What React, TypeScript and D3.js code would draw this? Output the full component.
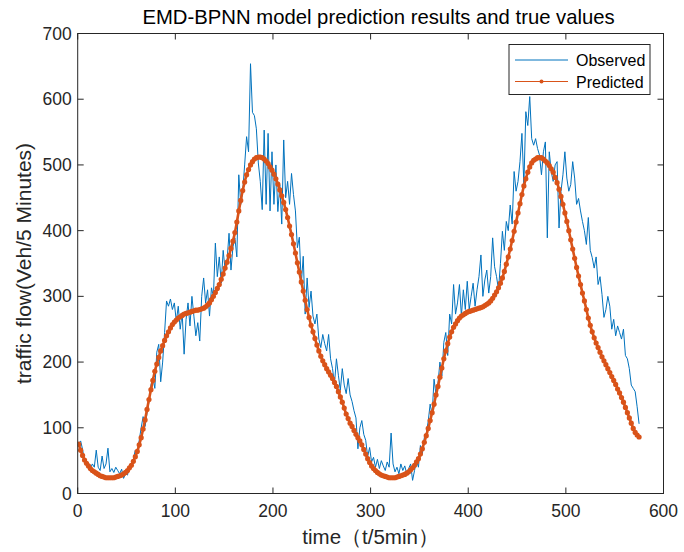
import React from "react";
import * as d3 from "d3";

// Time step of first sample and sampling step (t/5min)
const tStart = 1;
const tStep = 2;

// Observed traffic flow, sampled every 2 steps (t = 1,3,5,...)
const observed: number[] = [
  76, 80, 67, 50, 46, 42, 38, 45, 40, 66,
  40, 35, 57, 38, 45, 69, 33, 38, 32, 40,
  35, 30, 37, 23, 30, 28, 40, 46, 52, 66,
  60, 81, 100, 117, 102, 122, 140, 165, 177, 160,
  215, 227, 170, 200, 245, 293, 285, 296, 280, 290,
  262, 285, 250, 275, 212, 265, 290, 255, 300, 270,
  240, 260, 232, 300, 328, 290, 310, 270, 313, 300,
  381, 330, 360, 320, 370, 340, 355, 396, 340, 375,
  389, 360, 485, 440, 460, 500, 543, 520, 654, 580,
  575, 555, 503, 475, 432, 553, 440, 548, 430, 520,
  440, 500, 429, 470, 410, 538, 450, 475, 440, 487,
  455, 430, 374, 390, 318, 361, 273, 328, 283, 308,
  270, 258, 273, 235, 222, 242, 228, 217, 242, 205,
  190, 167, 205, 180, 157, 190, 165, 152, 175, 150,
  140, 126, 115, 68, 100, 111, 90, 81, 56, 70,
  48, 55, 40, 52, 38, 50, 42, 35, 48, 40,
  92, 45, 33, 40, 30, 45, 35, 42, 30, 38,
  45, 20, 35, 50, 40, 73, 60, 85, 91, 110,
  136, 120, 174, 150, 167, 200, 179, 230, 245, 210,
  273, 258, 318, 273, 290, 318, 270, 310, 280, 323,
  280, 300, 320, 285, 310, 330, 363, 300, 325, 340,
  305, 330, 389, 345, 330, 310, 350, 399, 370, 414,
  400, 439, 410, 490, 460, 475, 505, 548, 470, 581,
  560, 604, 540, 530, 540, 525, 515, 485, 520, 535,
  389, 520, 490, 475, 500, 505, 404, 460, 485, 520,
  480, 460, 470, 505, 480, 440, 449, 430, 414, 400,
  379, 420, 370, 359, 343, 360, 318, 330, 303, 268,
  280, 300, 285, 250, 265, 240, 255, 245, 235, 250,
  210, 205, 190, 165, 160, 155, 132, 106,
];

// Predicted (EMD-BPNN) values, same sampling
const predicted: number[] = [
  75, 66, 58, 51, 46, 42, 38, 35, 33, 31,
  29, 27, 26, 25, 24, 24, 24, 24, 24, 25,
  26, 27, 28, 30, 32, 35, 39, 43, 49, 56,
  64, 74, 85, 98, 112, 128, 143, 158, 172, 186,
  197, 207, 217, 225, 233, 240, 246, 252, 257, 261,
  264, 267, 269, 271, 273, 274, 275, 276, 277, 278,
  279, 279, 280, 281, 282, 284, 287, 290, 295, 300,
  306, 312, 318, 326, 334, 343, 352, 362, 373, 384,
  397, 413, 430, 446, 461, 474, 485, 493, 500, 505,
  509, 511, 512, 512, 511, 509, 506, 502, 497, 492,
  486, 479, 471, 462, 453, 443, 432, 420, 407, 394,
  380, 366, 351, 337, 322, 308, 294, 280, 268, 256,
  246, 236, 226, 217, 209, 202, 196, 190, 185, 180,
  175, 169, 163, 155, 147, 139, 130, 121, 114, 107,
  102, 96, 90, 85, 80, 74, 67, 60, 53, 47,
  42, 38, 35, 32, 30, 28, 27, 26, 25, 24,
  24, 24, 24, 25, 26, 27, 28, 29, 31, 33,
  36, 39, 43, 48, 53, 60, 68, 78, 88, 99,
  111, 123, 136, 150, 163, 177, 191, 205, 217, 228,
  238, 246, 253, 258, 263, 267, 270, 272, 274, 276,
  277, 278, 279, 280, 281, 282, 283, 284, 286, 288,
  290, 293, 297, 302, 307, 313, 320, 328, 338, 349,
  360, 372, 385, 399, 413, 427, 441, 455, 468, 479,
  489, 497, 503, 507, 509, 511, 511, 511, 509, 506,
  503, 499, 494, 489, 481, 473, 463, 452, 440, 427,
  414, 400, 386, 372, 358, 344, 331, 318, 305, 293,
  280, 267, 256, 246, 237, 229, 222, 215, 208, 202,
  196, 190, 184, 178, 172, 166, 159, 153, 146, 139,
  131, 123, 115, 107, 99, 93, 89, 86,
];

const xTicks = [0, 100, 200, 300, 400, 500, 600];
const yTicks = [0, 100, 200, 300, 400, 500, 600, 700];

const titleText = "EMD-BPNN model prediction results and true values";
const xLabel = "time（t/5min）";
const yLabel = "traffic flow(Veh/5 Minutes)";
const seriesNames = ["Observed", "Predicted"];

const W = 684;
const H = 552;
const M = { left: 77.7, right: 663.5, top: 33.5, bottom: 493.5 };
const BLUE = "#0072BD";
const ORANGE = "#D95319";
const AX = "#262626";
const FONT = "'Liberation Sans', Arial, Helvetica, sans-serif";

export default function App() {
  const x = d3.scaleLinear().domain([0, 600]).range([M.left, M.right]);
  const y = d3.scaleLinear().domain([0, 700]).range([M.bottom, M.top]);
  const tOf = (i: number) => tStart + tStep * i;

  const lineObs = d3
    .line<number>()
    .x((_, i) => x(tOf(i)))
    .y((d) => y(d));
  const linePred = d3
    .line<number>()
    .x((_, i) => x(tOf(i)))
    .y((d) => y(d))
    .curve(d3.curveCatmullRom);

  const tickLen = 6;

  return (
    <svg
      width={W}
      height={H}
      style={{ position: "absolute", left: 0, top: 0, background: "#fff" }}
      fontFamily={FONT}
    >
      <rect x={0} y={0} width={W} height={H} fill="#fff" />
      <defs>
        <clipPath id="plotclip">
          <rect x={M.left} y={M.top} width={M.right - M.left} height={M.bottom - M.top} />
        </clipPath>
      </defs>
      <g clipPath="url(#plotclip)">
        <path d={lineObs(observed) || ""} fill="none" stroke={BLUE} strokeWidth={1} />
        <path d={linePred(predicted) || ""} fill="none" stroke={ORANGE} strokeWidth={2.6} />
        {predicted.map((d, i) => (
          <circle key={i} cx={x(tOf(i))} cy={y(d)} r={2.6} fill={ORANGE} />
        ))}
      </g>
      {/* axes box */}
      <rect
        x={M.left}
        y={M.top}
        width={M.right - M.left}
        height={M.bottom - M.top}
        fill="none"
        stroke={AX}
        strokeWidth={1}
      />
      {xTicks.map((t) => (
        <g key={"x" + t}>
          <line x1={x(t)} x2={x(t)} y1={M.bottom} y2={M.bottom - tickLen} stroke={AX} />
          <line x1={x(t)} x2={x(t)} y1={M.top} y2={M.top + tickLen} stroke={AX} />
          <text x={x(t)} y={M.bottom + 23} textAnchor="middle" fontSize={17.5} fill={AX}>
            {t}
          </text>
        </g>
      ))}
      {yTicks.map((t) => (
        <g key={"y" + t}>
          <line x1={M.left} x2={M.left + tickLen} y1={y(t)} y2={y(t)} stroke={AX} />
          <line x1={M.right} x2={M.right - tickLen} y1={y(t)} y2={y(t)} stroke={AX} />
          <text x={M.left - 6} y={y(t) + 6} textAnchor="end" fontSize={17.5} fill={AX}>
            {t}
          </text>
        </g>
      ))}
      <text x={(M.left + M.right) / 2 + 8} y={24} textAnchor="middle" fontSize={20.3} fill="#000">
        {titleText}
      </text>
      <text x={(M.left + M.right) / 2} y={544} textAnchor="middle" fontSize={20.5} fill={AX}>
        {xLabel}
      </text>
      <text
        transform={`translate(31,${(M.top + M.bottom) / 2}) rotate(-90)`}
        textAnchor="middle"
        fontSize={21}
        fill={AX}
      >
        {yLabel}
      </text>
      {/* legend */}
      <g>
        <rect x={509} y={44.5} width={141} height={50} fill="#fff" stroke={AX} strokeWidth={1} />
        <line x1={515} x2={568} y1={60} y2={60} stroke={BLUE} strokeWidth={1} />
        <text x={576} y={66} fontSize={16} fill="#000">
          {seriesNames[0]}
        </text>
        <line x1={515} x2={568} y1={81.5} y2={81.5} stroke={ORANGE} strokeWidth={1} />
        <circle cx={541.5} cy={81.5} r={2} fill={ORANGE} />
        <text x={576} y={87.5} fontSize={16} fill="#000">
          {seriesNames[1]}
        </text>
      </g>
    </svg>
  );
}
